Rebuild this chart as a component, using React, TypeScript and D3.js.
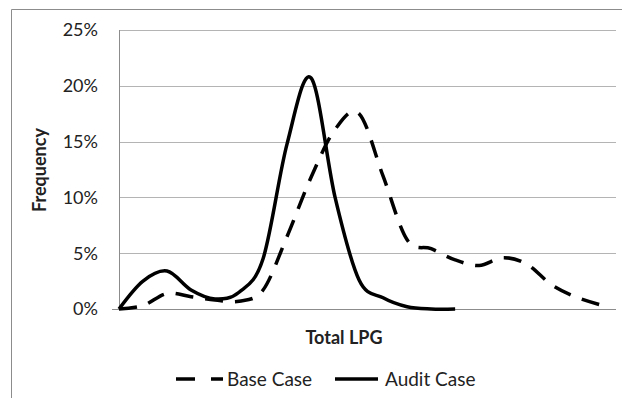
import React from 'react';
import * as d3 from 'd3';

// Frequency (%) per LPG bin
const baseCase = [0, 0.3, 1.4, 1.1, 0.8, 0.7, 1.7, 6.5, 11.8, 16.1, 17.5, 11.9, 6.2, 5.4, 4.4, 3.9, 4.6, 4.0, 2.2, 1.1, 0.4];
const auditCase = [0, 2.5, 3.4, 1.7, 0.9, 1.5, 4.5, 14.8, 20.7, 10.0, 2.6, 1.0, 0.2, 0, 0];
const yTicks = [0, 5, 10, 15, 20, 25];
const seriesNames = ['Base Case', 'Audit Case'];

const W = 622;
const H = 401;
const plot = { left: 119, right: 616, top: 30, bottom: 309 };
const font = 'Lato, "Open Sans", sans-serif';
const ink = '#222';
const grid = '#b4b4b4';
const dash = '18 12';

const App = () => {
  // bins are evenly spaced; the axis runs a little past the last bin
  const x = d3.scaleLinear().domain([0, 20.7]).range([plot.left, plot.right]);
  const y = d3.scaleLinear().domain([0, 25]).range([plot.bottom, plot.top]);

  const line = d3.line<number>()
    .x((_, i) => x(i))
    .y(d => y(d))
    .curve(d3.curveCatmullRom.alpha(0));

  return (
    <svg width={W} height={H} style={{ position: 'absolute', left: 0, top: 0, background: '#fff' }}>
      {/* chart frame (runs off the right and bottom edges) */}
      <line x1={11.5} x2={W} y1={9.5} y2={9.5} stroke="#8c8c8c" />
      <line x1={11.5} x2={11.5} y1={9.5} y2={398} stroke="#8c8c8c" />

      {/* gridlines + y labels */}
      {yTicks.map(t => (
        <g key={t}>
          <line x1={t === 0 ? plot.left - 7 : plot.left} x2={plot.right} y1={Math.round(y(t)) + 0.5} y2={Math.round(y(t)) + 0.5}
            stroke={t === 0 ? '#8c8c8c' : grid} />
          <text x={98} y={y(t)} dy="0.35em" textAnchor="end" fontFamily={font} fontSize={18} fill={ink}>{t}%</text>
        </g>
      ))}
      <line x1={plot.left + 0.5} x2={plot.left + 0.5} y1={plot.top} y2={plot.bottom} stroke="#8c8c8c" />

      {/* series */}
      <path d={line(baseCase) || ''} fill="none" stroke="#000" strokeWidth={3.5} strokeDasharray={dash} />
      <path d={line(auditCase) || ''} fill="none" stroke="#000" strokeWidth={3.5} strokeLinejoin="round" />

      {/* axis titles */}
      <text x={344} y={338} dy="0.35em" textAnchor="middle" fontFamily={font} fontWeight="bold" fontSize={18} fill={ink}>Total LPG</text>
      <text transform="translate(40,170) rotate(-90)" dy="0.35em" textAnchor="middle" fontFamily={font} fontWeight="bold" fontSize={18} fill={ink}>Frequency</text>

      {/* legend */}
      <g fontFamily={font} fontSize={19} fill={ink}>
        <line x1={176} x2={223} y1={379} y2={379} stroke="#000" strokeWidth={3.5} strokeDasharray="19 16" />
        <text x={227} y={379} dy="0.35em">{seriesNames[0]}</text>
        <line x1={335} x2={378} y1={379} y2={379} stroke="#000" strokeWidth={3.5} />
        <text x={385} y={379} dy="0.35em">{seriesNames[1]}</text>
      </g>
    </svg>
  );
};

export default App;
